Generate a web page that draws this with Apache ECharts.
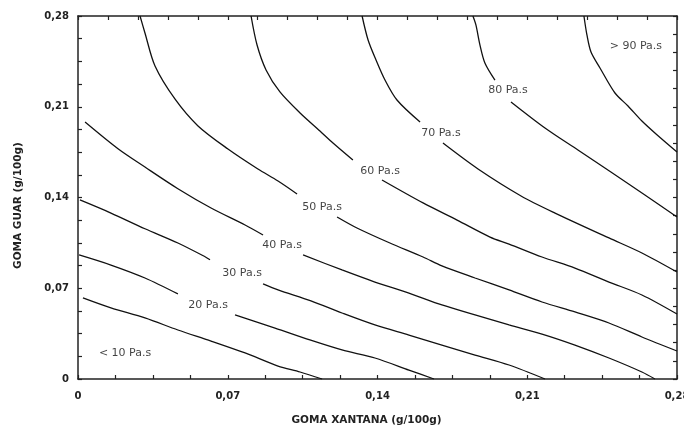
<!DOCTYPE html>
<html>
<head>
<meta charset="utf-8">
<script src="https://cdn.jsdelivr.net/npm/echarts@6/dist/echarts.min.js"></script>
<style>html,body{margin:0;padding:0;background:#fff}#c{width:684px;height:430px}</style>
</head>
<body>
<div id="c"></div>
<script>
// Axis ticks and labels
const xTicks = [0, 0.07, 0.14, 0.21, 0.28];
const xTickLabels = ['0', '0,07', '0,14', '0,21', '0,28'];
const yTicks = [0, 0.07, 0.14, 0.21, 0.28];
const yTickLabels = ['0', '0,07', '0,14', '0,21', '0,28'];
const xTitle = 'GOMA XANTANA (g/100g)';
const yTitle = 'GOMA GUAR (g/100g)';

// Contour lines (x = goma xantana, y = goma guar); each level is a list of segments (gaps where labels sit)
const c10 = [[[0.0023,0.0625],[0.0154,0.0548],[0.0313,0.0471],[0.0467,0.0378],[0.0622,0.0293],[0.0781,0.0201],[0.0935,0.0100],[0.1038,0.0054],[0.1141,0]]];
const c20 = [
  [[0.0005,0.0957],[0.0154,0.0879],[0.0313,0.0779],[0.0467,0.0656]],
  [[0.0734,0.0494],[0.0921,0.0393],[0.1084,0.0301],[0.1234,0.0224],[0.1388,0.0162],[0.1547,0.0069],[0.1664,0]]
];
const c30 = [
  [[0.0009,0.1381],[0.0154,0.1280],[0.0313,0.1159],[0.0467,0.1049],[0.0594,0.0943],[0.0617,0.0920]],
  [[0.0865,0.0733],[0.0935,0.0687],[0.1089,0.0602],[0.1234,0.0509],[0.1388,0.0417],[0.1547,0.0339],[0.1701,0.0262],[0.1856,0.0185],[0.2015,0.0108],[0.2183,0]]
];
const c40 = [
  [[0.0033,0.1982],[0.0187,0.1776],[0.0313,0.1635],[0.0467,0.1468],[0.0622,0.1319],[0.0781,0.1188],[0.0865,0.1111]],
  [[0.1052,0.0957],[0.1234,0.0841],[0.1388,0.0748],[0.1547,0.0663],[0.1701,0.0571],[0.1856,0.0494],[0.2015,0.0417],[0.2169,0.0347],[0.2323,0.0262],[0.2482,0.0162],[0.2636,0.0054],[0.2697,0]]
];
const c50 = [
  [[0.0290,0.28],[0.0313,0.2669],[0.0360,0.2414],[0.0453,0.2160],[0.0561,0.1952],[0.0701,0.1774],[0.0841,0.1620],[0.0935,0.1527],[0.1024,0.1427]],
  [[0.1211,0.1250],[0.1304,0.1165],[0.1458,0.1049],[0.1613,0.0941],[0.1701,0.0872],[0.1856,0.0779],[0.2015,0.0687],[0.2169,0.0594],[0.2323,0.0517],[0.2482,0.0432],[0.2636,0.0324],[0.28,0.0216]]
];
const c60 = [
  [[0.0809,0.28],[0.0837,0.2576],[0.0879,0.2384],[0.0944,0.2214],[0.1038,0.2052],[0.1131,0.1913],[0.1192,0.1820],[0.1285,0.1689]],
  [[0.1421,0.1535],[0.1613,0.1358],[0.1772,0.1226],[0.1926,0.1095],[0.2015,0.1041],[0.2169,0.0941],[0.2323,0.0856],[0.2482,0.0748],[0.2636,0.0648],[0.28,0.0501]]
];
const c70 = [
  [[0.1328,0.28],[0.1356,0.2615],[0.1393,0.2461],[0.1435,0.2306],[0.1491,0.2152],[0.1599,0.1982]],
  [[0.1706,0.1820],[0.1870,0.1620],[0.2071,0.1412],[0.2230,0.1280],[0.2482,0.1088],[0.2636,0.0972],[0.28,0.0825]]
];
const c80 = [
  [[0.1846,0.28],[0.1860,0.2731],[0.1879,0.2576],[0.1902,0.2438],[0.1949,0.2306]],
  [[0.2024,0.2137],[0.2183,0.1936],[0.2337,0.1766],[0.2491,0.1597],[0.2650,0.1419],[0.28,0.1250]]
];
const c90 = [[[0.2365,0.28],[0.2379,0.2654],[0.2398,0.2522],[0.2440,0.2399],[0.2510,0.2206],[0.2571,0.2106],[0.2636,0.1990],[0.2702,0.1890],[0.28,0.1751]]];

// Contour labels: [x, y, text]
const levelLabels = [
  [0.022, 0.020, '< 10 Pa.s'],
  [0.0608, 0.0571, '20 Pa.s'],
  [0.0767, 0.0818, '30 Pa.s'],
  [0.0954, 0.1034, '40 Pa.s'],
  [0.1141, 0.1327, '50 Pa.s'],
  [0.1412, 0.1604, '60 Pa.s'],
  [0.1697, 0.1898, '70 Pa.s'],
  [0.2010, 0.2229, '80 Pa.s'],
  [0.2608, 0.2569, '> 90 Pa.s']
];

const levels = [c10, c20, c30, c40, c50, c60, c70, c80, c90];

const series = [];
levels.forEach(function (lv) {
  lv.forEach(function (seg) {
    series.push({
      type: 'line', data: seg, xAxisIndex: 0, yAxisIndex: 0,
      symbol: 'none', smooth: 0.3, silent: true,
      lineStyle: { color: '#111', width: 1.3 }
    });
  });
});
series.push({
  type: 'scatter', data: levelLabels, symbolSize: 0, silent: true,
  label: {
    show: true, position: 'inside',
    formatter: function (p) { return p.data[2]; },
    color: '#111', fontFamily: 'DejaVu Sans', fontSize: 11
  }
});

function fmt(ticks, labels) {
  return function (v) {
    for (let i = 0; i < ticks.length; i++) if (Math.abs(v - ticks[i]) < 1e-6) return labels[i];
    return '';
  };
}

const axisLine = { show: true, onZero: false, lineStyle: { color: '#222', width: 1.5 } };
const tickStyle = { color: '#222', width: 1.2 };
const labelFont = { color: '#222', fontFamily: 'DejaVu Sans', fontWeight: 'bold', fontSize: 10 };
const titleFont = { color: '#222', fontFamily: 'DejaVu Sans', fontWeight: 'bold', fontSize: 10.5 };

const chart = echarts.init(document.getElementById('c'), null, { renderer: 'canvas' });
chart.setOption({
  animation: false,
  backgroundColor: '#fff',
  grid: { left: 78, top: 16, right: 7, bottom: 51, containLabel: false, outerBoundsMode: 'none' },
  xAxis: [
    {
      type: 'value', min: 0, max: 0.28, interval: 0.07, position: 'bottom',
      axisLine: axisLine,
      axisTick: { show: true, inside: true, length: 4, lineStyle: tickStyle },
      minorTick: { show: true, splitNumber: 4, length: 4, lineStyle: tickStyle },
      axisLabel: Object.assign({ margin: 12, formatter: fmt(xTicks, xTickLabels), showMaxLabel: true }, labelFont),
      splitLine: { show: false },
      name: xTitle, nameLocation: 'middle', nameGap: 36,
      nameTextStyle: Object.assign({ padding: [0, 22, 0, 0] }, titleFont)
    },
    {
      type: 'value', min: 0, max: 0.28, interval: 0.014, position: 'top',
      axisLine: axisLine,
      axisTick: { show: true, inside: true, length: 4, lineStyle: tickStyle },
      axisLabel: { show: false }, splitLine: { show: false }
    }
  ],
  yAxis: [
    {
      type: 'value', min: 0, max: 0.28, interval: 0.07, position: 'left',
      axisLine: axisLine,
      axisTick: { show: true, inside: true, length: 4, lineStyle: tickStyle },
      minorTick: { show: true, splitNumber: 4, length: 4, lineStyle: tickStyle },
      axisLabel: Object.assign({ margin: 9, formatter: fmt(yTicks, yTickLabels), showMaxLabel: true }, labelFont),
      splitLine: { show: false },
      name: yTitle, nameLocation: 'middle', nameGap: 54, nameRotate: 90,
      nameTextStyle: Object.assign({ padding: [0, 16, 0, 0] }, titleFont)
    },
    {
      type: 'value', min: 0, max: 0.28, interval: 0.014, position: 'right',
      axisLine: axisLine,
      axisTick: { show: true, inside: true, length: 4, lineStyle: tickStyle },
      axisLabel: { show: false }, splitLine: { show: false }
    }
  ],
  series: series
});
</script>
</body>
</html>
